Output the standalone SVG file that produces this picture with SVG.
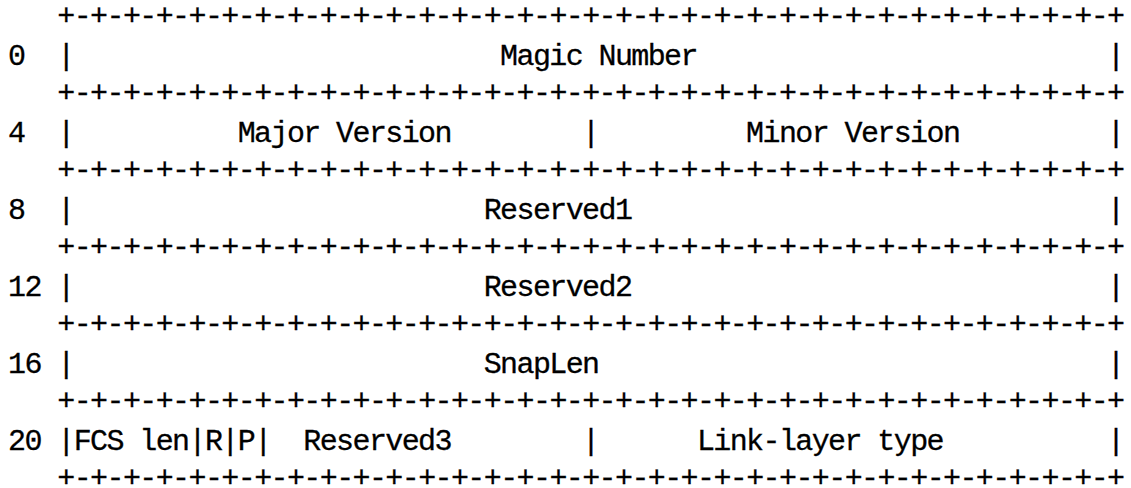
<svg xmlns="http://www.w3.org/2000/svg" width="1131" height="488" viewBox="0 0 1131 488">
<style>
text{font-family:"Liberation Mono","DejaVu Sans Mono",monospace;font-size:30px;letter-spacing:-1.6px;fill:#000;stroke:#000;stroke-width:0.3px;white-space:pre}
</style>
<rect width="1131" height="488" fill="#fff"/>
<g id="borders">
<text x="57.3" y="25">+-+-+-+-+-+-+-+-+-+-+-+-+-+-+-+-+-+-+-+-+-+-+-+-+-+-+-+-+-+-+-+-+</text>
<text x="57.3" y="102">+-+-+-+-+-+-+-+-+-+-+-+-+-+-+-+-+-+-+-+-+-+-+-+-+-+-+-+-+-+-+-+-+</text>
<text x="57.3" y="179">+-+-+-+-+-+-+-+-+-+-+-+-+-+-+-+-+-+-+-+-+-+-+-+-+-+-+-+-+-+-+-+-+</text>
<text x="57.3" y="256">+-+-+-+-+-+-+-+-+-+-+-+-+-+-+-+-+-+-+-+-+-+-+-+-+-+-+-+-+-+-+-+-+</text>
<text x="57.3" y="333">+-+-+-+-+-+-+-+-+-+-+-+-+-+-+-+-+-+-+-+-+-+-+-+-+-+-+-+-+-+-+-+-+</text>
<text x="57.3" y="410">+-+-+-+-+-+-+-+-+-+-+-+-+-+-+-+-+-+-+-+-+-+-+-+-+-+-+-+-+-+-+-+-+</text>
<text x="57.3" y="487">+-+-+-+-+-+-+-+-+-+-+-+-+-+-+-+-+-+-+-+-+-+-+-+-+-+-+-+-+-+-+-+-+</text>
</g>
<g id="row0">
<text x="8.1" y="65">0</text><text x="57.3" y="65">|</text>
<text x="500.1" y="65">Magic Number</text>
<text x="1106.9" y="65">|</text>
</g>
<g id="row4">
<text x="8.1" y="142">4</text><text x="57.3" y="142">|</text>
<text x="237.7" y="142">Major Version</text>
<text x="582.1" y="142">|</text>
<text x="746.1" y="142">Minor Version</text>
<text x="1106.9" y="142">|</text>
</g>
<g id="row8">
<text x="8.1" y="219">8</text><text x="57.3" y="219">|</text>
<text x="483.7" y="219">Reserved1</text>
<text x="1106.9" y="219">|</text>
</g>
<g id="row12">
<text x="8.1" y="296">12</text><text x="57.3" y="296">|</text>
<text x="483.7" y="296">Reserved2</text>
<text x="1106.9" y="296">|</text>
</g>
<g id="row16">
<text x="8.1" y="373">16</text><text x="57.3" y="373">|</text>
<text x="483.7" y="373">SnapLen</text>
<text x="1106.9" y="373">|</text>
</g>
<g id="row20">
<text x="8.1" y="450">20</text>
<text x="57.3" y="450">|FCS len|R|P|</text>
<text x="303.3" y="450">Reserved3</text>
<text x="582.1" y="450">|</text>
<text x="696.9" y="450">Link-layer type</text>
<text x="1106.9" y="450">|</text>
</g>
</svg>
